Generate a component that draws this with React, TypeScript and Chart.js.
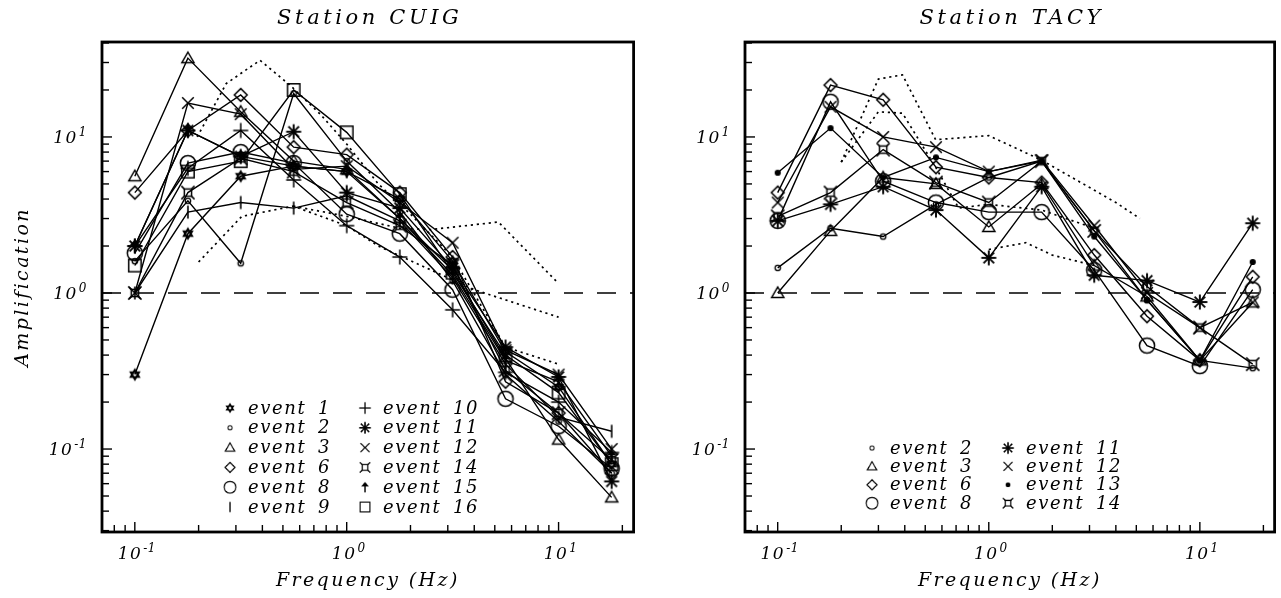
import React, { useEffect, useRef } from "react";
import { Chart, registerables } from "chart.js";

Chart.register(...registerables);

const FONT = '"DejaVu Serif", "Liberation Serif", serif';

// ---------------- data ----------------
const freqHz = [0.1, 0.178, 0.316, 0.562, 1, 1.78, 3.16, 5.62, 10, 17.8];
const xTickValues = [0.1, 1, 10];
const yTickValues = [0.1, 1, 10];
const tickExponents = ["-1", "0", "1"];
const xRange = [0.07, 22.6];
const yRange = [0.0294, 40.6];
const referenceLevel = 1;

// Station CUIG
const cuigEvent1 = [0.3, 2.4, 5.6, 6.5, 6.0, 4.0, 1.6, 0.42, 0.25, 0.08];
const cuigEvent2 = [1.6, 3.9, 1.55, 19, 7.0, 3.3, 1.2, 0.3, 0.15, 0.07];
const cuigEvent3 = [5.6, 32, 14.5, 7.0, 6.2, 3.0, 1.4, 0.38, 0.115, 0.049];
const cuigEvent6 = [4.4, 11, 18.6, 8.6, 7.7, 4.4, 1.7, 0.27, 0.17, 0.07];
const cuigEvent8 = [1.8, 6.8, 8.0, 6.8, 3.2, 2.4, 1.05, 0.21, 0.14, 0.075];
const cuigEvent9 = [1.0, 3.3, 3.8, 3.5, 4.2, 2.9, 1.25, 0.35, 0.16, 0.13];
const cuigEvent10 = [2.0, 6.3, 11, 5.3, 2.7, 1.7, 0.78, 0.31, 0.2, 0.095];
const cuigEvent11 = [2.0, 11, 7.5, 10.8, 4.4, 3.5, 1.45, 0.45, 0.29, 0.062];
const cuigEvent12 = [1.0, 16.5, 14, 6.2, 6.5, 3.8, 2.1, 0.43, 0.3, 0.1];
const cuigEvent14 = [1.0, 4.4, 7.3, 6.0, 3.8, 2.7, 1.5, 0.32, 0.17, 0.085];
const cuigEvent15 = [2.0, 11, 7.5, 6.5, 6.0, 3.0, 1.3, 0.37, 0.27, 0.09];
const cuigEvent16 = [1.5, 6.0, 7.0, 20, 10.7, 4.3, 1.35, 0.4, 0.23, 0.08];

const cuigDotAFreq = [0.197, 0.27, 0.39, 0.55, 0.75, 1.0, 1.41, 2.0, 3.16, 5.62, 10];
const cuigDotA = [10, 22, 31, 21, 14, 9, 5, 3.2, 1.7, 0.45, 0.35];
const cuigDotBFreq = [0.2, 0.32, 0.56, 1.0, 1.41, 4.0, 10];
const cuigDotB = [1.58, 3.1, 3.6, 2.7, 2.0, 1.05, 0.7];
const cuigDotCFreq = [0.56, 1.0, 1.78, 2.5, 5.2, 10];
const cuigDotC = [3.6, 3.1, 2.6, 2.55, 2.85, 1.15];

// Station TACY
const tacyEvent2 = [1.45, 2.6, 2.3, 3.7, 5.5, 7.0, 2.5, 0.9, 0.37, 0.33];
const tacyEvent3 = [1.0, 2.5, 5.5, 5.0, 2.65, 5.0, 1.5, 0.95, 0.37, 0.87];
const tacyEvent6 = [4.4, 21.5, 17.3, 6.4, 5.5, 5.1, 1.75, 0.71, 0.37, 1.27];
const tacyEvent8 = [2.9, 16.8, 5.2, 3.8, 3.3, 3.3, 1.4, 0.46, 0.34, 1.05];
const tacyEvent11 = [2.9, 3.7, 4.8, 3.4, 1.68, 4.8, 1.3, 1.2, 0.875, 2.8];
const tacyEvent12 = [3.8, 15.6, 10, 8.6, 6.0, 7.1, 2.7, 1.0, 0.6, 0.87];
const tacyEvent13 = [5.9, 11.4, 5.5, 7.4, 6.0, 7.0, 2.3, 0.9, 0.37, 1.58];
const tacyEvent14 = [3.1, 4.4, 8.3, 5.1, 3.8, 7.0, 2.5, 1.1, 0.6, 0.35];

const tacyDotAFreq = [0.2, 0.3, 0.39, 0.56, 1.0, 1.78, 4.0, 5.2];
const tacyDotA = [6.9, 23.5, 25, 9.6, 10.2, 7.1, 3.8, 3.0];
const tacyDotBFreq = [0.2, 0.3, 0.39, 0.56, 0.72, 1.0, 1.78, 3.16];
const tacyDotB = [6.9, 14.5, 14.2, 6.4, 3.5, 3.7, 3.4, 2.6];
const tacyDotCFreq = [1.0, 1.5, 2.0, 3.16];
const tacyDotC = [1.9, 2.1, 1.75, 1.5];

const markerOfEvent: Record<number, string> = {
  1: "hexagram", 2: "smallCircle", 3: "triangle", 6: "diamond", 8: "bigCircle",
  9: "bar", 10: "plus", 11: "asterisk", 12: "cross", 13: "dot", 14: "bowtie",
  15: "arrow", 16: "square",
};

// ---------------- markers ----------------
function makeMarker(kind: string): HTMLCanvasElement {
  const S = 22;
  const c = document.createElement("canvas");
  c.width = S;
  c.height = S;
  const g = c.getContext("2d")!;
  g.translate(S / 2, S / 2);
  g.strokeStyle = "#000";
  g.fillStyle = "#000";
  g.lineWidth = 1.5;
  const poly = (pts: number[][], fill = false) => {
    g.beginPath();
    pts.forEach(([x, y], i) => (i ? g.lineTo(x, y) : g.moveTo(x, y)));
    g.closePath();
    fill ? g.fill() : g.stroke();
  };
  const seg = (x1: number, y1: number, x2: number, y2: number) => {
    g.beginPath();
    g.moveTo(x1, y1);
    g.lineTo(x2, y2);
    g.stroke();
  };
  switch (kind) {
    case "hexagram": {
      const r = 4.8;
      g.lineWidth = 1.9;
      const tri = (o: number) =>
        poly([0, 1, 2].map((i) => {
          const a = o + (i * 2 * Math.PI) / 3;
          return [r * Math.sin(a), -r * Math.cos(a)];
        }));
      tri(0);
      tri(Math.PI);
      break;
    }
    case "smallCircle":
      g.lineWidth = 1.3;
      g.beginPath();
      g.arc(0, 0, 2.7, 0, Math.PI * 2);
      g.stroke();
      break;
    case "triangle": {
      const r = 7;
      poly([[0, -r + 1], [r * 0.866, r * 0.5 + 1], [-r * 0.866, r * 0.5 + 1]]);
      break;
    }
    case "diamond":
      poly([[0, -6.4], [6.4, 0], [0, 6.4], [-6.4, 0]]);
      break;
    case "bigCircle":
      g.beginPath();
      g.arc(0, 0, 7.6, 0, Math.PI * 2);
      g.stroke();
      break;
    case "bar":
      g.lineWidth = 1.6;
      seg(0, -6.5, 0, 6.5);
      break;
    case "plus":
      seg(-7.5, 0, 7.5, 0);
      seg(0, -7.5, 0, 7.5);
      break;
    case "asterisk":
      g.lineWidth = 1.9;
      for (let i = 0; i < 4; i++) {
        const a = (i * Math.PI) / 4;
        seg(-7.5 * Math.cos(a), -7.5 * Math.sin(a), 7.5 * Math.cos(a), 7.5 * Math.sin(a));
      }
      break;
    case "cross":
      seg(-5.8, -5.8, 5.8, 5.8);
      seg(-5.8, 5.8, 5.8, -5.8);
      break;
    case "dot":
      g.beginPath();
      g.arc(0, 0, 3.1, 0, Math.PI * 2);
      g.fill();
      break;
    case "bowtie":
      g.strokeRect(-3.6, -3.6, 7.2, 7.2);
      seg(-6.6, -6.6, -3.6, -3.6);
      seg(6.6, -6.6, 3.6, -3.6);
      seg(-6.6, 6.6, -3.6, 3.6);
      seg(6.6, 6.6, 3.6, 3.6);
      break;
    case "arrow":
      poly([[0, -6.8], [5, -1], [-5, -1]], true);
      g.lineWidth = 1.7;
      seg(0, -1, 0, 6.5);
      break;
    case "square":
      g.strokeRect(-6.2, -6.2, 12.4, 12.4);
      break;
  }
  return c;
}

// ---------------- chart builder ----------------
type EventSeries = { event: number; values: number[] };
type DotSeries = { freq: number[]; values: number[] };
type LegendLayout = {
  cols: number[][];
  colX: number[];
  firstRow: number;
  rowStep: number;
};

function drawPowerLabel(ctx: any, exp: string, x: number, baseline: number, align: "center" | "right") {
  ctx.letterSpacing = "1.5px";
  ctx.font = `italic 17px ${FONT}`;
  const wb = ctx.measureText("10").width;
  ctx.font = `italic 12px ${FONT}`;
  ctx.letterSpacing = "0.5px";
  const we = ctx.measureText(exp).width;
  const total = wb + we + 1;
  const start = align === "center" ? x - total / 2 : x - total;
  ctx.textAlign = "left";
  ctx.textBaseline = "alphabetic";
  ctx.font = `italic 17px ${FONT}`;
  ctx.letterSpacing = "1.5px";
  ctx.fillText("10", start, baseline);
  ctx.font = `italic 12px ${FONT}`;
  ctx.letterSpacing = "0.5px";
  ctx.fillText(exp, start + wb + 1, baseline - 7);
}

const decoPlugin = {
  id: "deco",
  beforeDraw(chart: any) {
    chart.ctx.letterSpacing = "2.4px";
  },
  afterDatasetsDraw(chart: any, _args: any, opts: any) {
    const { ctx, chartArea: a, scales } = chart;
    ctx.save();
    ctx.strokeStyle = "#000";
    ctx.fillStyle = "#000";
    // frame
    ctx.lineWidth = 2.8;
    ctx.strokeRect(a.left, a.top, a.right - a.left, a.bottom - a.top);
    // inward ticks
    ctx.lineWidth = 1.4;
    for (let e = -2; e <= 1; e++) {
      for (let k = 1; k <= 9; k++) {
        const v = k * Math.pow(10, e);
        const len = k === 1 ? 10 : 7;
        if (v > scales.x.min && v < scales.x.max) {
          const px = scales.x.getPixelForValue(v);
          ctx.beginPath();
          ctx.moveTo(px, a.bottom);
          ctx.lineTo(px, a.bottom - len);
          ctx.stroke();
        }
        if (v > scales.y.min && v < scales.y.max) {
          const py = scales.y.getPixelForValue(v);
          ctx.beginPath();
          ctx.moveTo(a.left, py);
          ctx.lineTo(a.left + len, py);
          ctx.stroke();
        }
      }
    }
    // tick labels (powers of ten) at the scales' own tick values
    scales.x.ticks.forEach((t: any) => {
      const i = xTickValues.indexOf(t.value);
      if (i < 0) return;
      drawPowerLabel(ctx, tickExponents[i], scales.x.getPixelForValue(t.value) + 2, a.bottom + 27, "center");
    });
    scales.y.ticks.forEach((t: any) => {
      const i = yTickValues.indexOf(t.value);
      if (i < 0) return;
      drawPowerLabel(ctx, tickExponents[i], a.left - 15, scales.y.getPixelForValue(t.value) + 6, "right");
    });
    // panel title
    ctx.font = `italic 21px ${FONT}`;
    ctx.letterSpacing = "3.6px";
    ctx.textAlign = "center";
    ctx.textBaseline = "middle";
    ctx.fillText(opts.title, (a.left + a.right) / 2 + 2, 19);
    // legend
    const lay: LegendLayout = opts.legend;
    ctx.font = `italic 18px ${FONT}`;
    ctx.letterSpacing = "1.6px";
    ctx.textAlign = "left";
    lay.cols.forEach((col, ci) => {
      col.forEach((dsIndex, ri) => {
        const ds = chart.data.datasets[dsIndex];
        const sx = a.left + lay.colX[ci];
        const sy = a.top + lay.firstRow + ri * lay.rowStep;
        const m: HTMLCanvasElement = ds.pointStyle;
        const w = m.width * 0.78;
        const h = m.height * 0.78;
        ctx.drawImage(m, sx - w / 2, sy - h / 2, w, h);
        const [word, num] = String(ds.label).split(" ");
        ctx.fillText(word, sx + 18, sy + 1);
        ctx.fillText(num, sx + 88, sy + 1);
      });
    });
    ctx.restore();
  },
};

function buildChart(
  canvas: HTMLCanvasElement,
  events: EventSeries[],
  dots: DotSeries[],
  title: string,
  yTitle: string,
  yWidth: number,
  padRight: number,
  legend: LegendLayout
) {
  const datasets: any[] = [];
  datasets.push({
    label: "unit",
    data: [
      { x: xRange[0], y: referenceLevel },
      { x: xRange[1], y: referenceLevel },
    ],
    showLine: true,
    borderColor: "#000",
    borderWidth: 1.6,
    borderDash: [19, 14],
    pointRadius: 0,
  });
  dots.forEach((d, i) => {
    datasets.push({
      label: "dot" + i,
      data: d.freq.map((x, j) => ({ x, y: d.values[j] })),
      showLine: true,
      borderColor: "#000",
      borderWidth: 1.7,
      borderDash: [2.2, 3.8],
      pointRadius: 0,
    });
  });
  const firstEvent = datasets.length;
  events.forEach((s) => {
    datasets.push({
      label: "event " + s.event,
      data: freqHz.map((x, j) => ({ x, y: s.values[j] })),
      showLine: true,
      borderColor: "#000",
      borderWidth: 1.4,
      backgroundColor: "#000",
      pointStyle: makeMarker(markerOfEvent[s.event]),
      pointRadius: 5,
    });
  });
  const lay: LegendLayout = {
    ...legend,
    cols: legend.cols.map((c) => c.map((i) => i + firstEvent)),
  };
  const titleFont = { family: FONT, style: "italic" as const, size: 19 };
  return new Chart(canvas, {
    type: "scatter",
    data: { datasets },
    options: {
      animation: false,
      responsive: false,
      devicePixelRatio: 1,
      layout: { padding: { left: 0, right: padRight, top: 42, bottom: 0 } },
      plugins: {
        legend: { display: false },
        tooltip: { enabled: false },
        deco: { title, legend: lay },
      } as any,
      scales: {
        x: {
          type: "logarithmic",
          min: xRange[0],
          max: xRange[1],
          grid: { display: false },
          border: { display: false },
          afterBuildTicks: (s: any) => {
            s.ticks = xTickValues.map((value) => ({ value }));
          },
          afterFit: (s: any) => {
            s.height = 66;
          },
          ticks: { display: false, autoSkip: false, maxRotation: 0 },
          title: {
            display: true,
            text: "Frequency (Hz)",
            color: "#000",
            font: titleFont,
            padding: { top: 0, bottom: 6 },
          },
        },
        y: {
          type: "logarithmic",
          min: yRange[0],
          max: yRange[1],
          grid: { display: false },
          border: { display: false },
          afterBuildTicks: (s: any) => {
            s.ticks = yTickValues.map((value) => ({ value }));
          },
          afterFit: (s: any) => {
            s.width = yWidth;
          },
          ticks: { display: false, autoSkip: false },
          title: {
            display: yTitle.length > 0,
            text: yTitle,
            color: "#000",
            font: titleFont,
            padding: { top: 12, bottom: 0 },
          },
        },
      },
    } as any,
    plugins: [decoPlugin as any],
  });
}

export default function App() {
  const leftRef = useRef<HTMLCanvasElement>(null);
  const rightRef = useRef<HTMLCanvasElement>(null);

  useEffect(() => {
    const cuig: EventSeries[] = [
      { event: 1, values: cuigEvent1 },
      { event: 2, values: cuigEvent2 },
      { event: 3, values: cuigEvent3 },
      { event: 6, values: cuigEvent6 },
      { event: 8, values: cuigEvent8 },
      { event: 9, values: cuigEvent9 },
      { event: 10, values: cuigEvent10 },
      { event: 11, values: cuigEvent11 },
      { event: 12, values: cuigEvent12 },
      { event: 14, values: cuigEvent14 },
      { event: 15, values: cuigEvent15 },
      { event: 16, values: cuigEvent16 },
    ];
    const tacy: EventSeries[] = [
      { event: 2, values: tacyEvent2 },
      { event: 3, values: tacyEvent3 },
      { event: 6, values: tacyEvent6 },
      { event: 8, values: tacyEvent8 },
      { event: 11, values: tacyEvent11 },
      { event: 12, values: tacyEvent12 },
      { event: 13, values: tacyEvent13 },
      { event: 14, values: tacyEvent14 },
    ];
    const c1 = buildChart(
      leftRef.current!,
      cuig,
      [
        { freq: cuigDotAFreq, values: cuigDotA },
        { freq: cuigDotBFreq, values: cuigDotB },
        { freq: cuigDotCFreq, values: cuigDotC },
      ],
      "Station CUIG",
      "Amplification",
      102,
      2,
      { cols: [[0, 1, 2, 3, 4, 5], [6, 7, 8, 9, 10, 11]], colX: [128, 263], firstRow: 366, rowStep: 19.8 }
    );
    const c2 = buildChart(
      rightRef.current!,
      tacy,
      [
        { freq: tacyDotAFreq, values: tacyDotA },
        { freq: tacyDotBFreq, values: tacyDotB },
        { freq: tacyDotCFreq, values: tacyDotC },
      ],
      "Station TACY",
      "",
      105,
      3,
      { cols: [[0, 1, 2, 3], [4, 5, 6, 7]], colX: [127, 263], firstRow: 406, rowStep: 18.4 }
    );
    return () => {
      c1.destroy();
      c2.destroy();
    };
  }, []);

  return (
    <div style={{ position: "absolute", left: 0, top: 0, width: 1281, height: 598, background: "#fff" }}>
      <canvas ref={leftRef} width={640} height={598} style={{ position: "absolute", left: 0, top: 0, display: "block" }} />
      <canvas ref={rightRef} width={641} height={598} style={{ position: "absolute", left: 640, top: 0, display: "block" }} />
    </div>
  );
}
